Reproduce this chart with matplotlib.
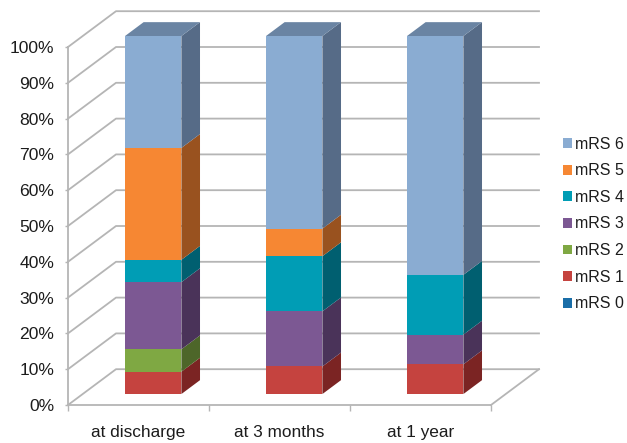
import matplotlib
matplotlib.use("Agg")
import matplotlib.pyplot as plt
from matplotlib.patches import Patch, Polygon

plt.rcParams["font.family"] = ["Liberation Sans", "DejaVu Sans"]

# ── Datos ────────────────────────────────────────────────────
periodos = ["at discharge", "at 3 months", "at 1 year"]
escalas = ["mRS 0", "mRS 1", "mRS 2", "mRS 3", "mRS 4", "mRS 5", "mRS 6"]

mrs0 = [0, 0, 0]
mrs1 = [6.25, 7.7, 8.3]
mrs2 = [6.25, 0, 0]
mrs3 = [18.75, 15.4, 8.3]
mrs4 = [6.25, 15.4, 16.7]
mrs5 = [31.25, 7.7, 0]
mrs6 = [31.25, 53.8, 66.7]
series = [mrs0, mrs1, mrs2, mrs3, mrs4, mrs5, mrs6]

colores = ["#1a6ea8", "#c5433f", "#7fa843", "#7c5893", "#009db5", "#f68733", "#8aacd2"]
laterales = ["#104a72", "#7b2423", "#4d6629", "#4a3359", "#005f70", "#99521f", "#566b87"]
color_tapa = "#6a84a3"
gris = "#b5b5b5"

# Desplazamiento oblicuo de la profundidad, en unidades de datos
DX = 48 / 141
DY = 10
ANCHO = 0.4
PROF_FRENTE = 0.306
PROF_FONDO = 0.694


def proy(x, y, prof):
    return (x + prof * DX, y + prof * DY)


fig = plt.figure(figsize=(6.27, 4.43), dpi=100)
ax = fig.add_axes([68 / 627, 38 / 443, 423 / 627, 358 / 443])
ax.set_xlim(0, 3)
ax.set_ylim(0, 100)

# ── Paredes y piso ───────────────────────────────────────────
for y in range(0, 101, 10):
    ax.plot(*zip(proy(0, y, 0), proy(0, y, 1), proy(3, y, 1)),
            color=gris, lw=1.3, clip_on=False, zorder=1)
ax.plot(*zip(proy(3, 0, 0), proy(3, 0, 1)), color=gris, lw=1.3, clip_on=False, zorder=1)

# ── Barras apiladas ──────────────────────────────────────────
for i in range(len(periodos)):
    izq = i + 0.5 - ANCHO / 2
    der = i + 0.5 + ANCHO / 2
    base = 0
    for valores, color, lateral in zip(series, colores, laterales):
        v = valores[i]
        if v == 0:
            continue
        tope = base + v
        frente = [proy(izq, base, PROF_FRENTE), proy(der, base, PROF_FRENTE),
                  proy(der, tope, PROF_FRENTE), proy(izq, tope, PROF_FRENTE)]
        costado = [proy(der, base, PROF_FRENTE), proy(der, base, PROF_FONDO),
                   proy(der, tope, PROF_FONDO), proy(der, tope, PROF_FRENTE)]
        ax.add_patch(Polygon(costado, closed=True, fc=lateral, ec="none", clip_on=False, zorder=3))
        ax.add_patch(Polygon(frente, closed=True, fc=color, ec="none", clip_on=False, zorder=4))
        base = tope
    tapa = [proy(izq, base, PROF_FRENTE), proy(der, base, PROF_FRENTE),
            proy(der, base, PROF_FONDO), proy(izq, base, PROF_FONDO)]
    ax.add_patch(Polygon(tapa, closed=True, fc=color_tapa, ec="none", clip_on=False, zorder=3))

# ── Ejes ─────────────────────────────────────────────────────
for lado in ["top", "right"]:
    ax.spines[lado].set_visible(False)
for lado in ["left", "bottom"]:
    ax.spines[lado].set_color(gris)
    ax.spines[lado].set_linewidth(1.3)

ax.set_yticks(range(0, 101, 10))
ax.set_yticklabels([f"{v}%" for v in range(0, 101, 10)])
ax.tick_params(axis="y", length=2, width=1, color=gris, pad=8, labelsize=12.6, labelcolor="#1c1c1c")

ax.set_xticks([0, 1, 2, 3])
ax.set_xticklabels([])
ax.tick_params(axis="x", which="major", length=4.5, width=1, color=gris)
ax.set_xticks([0.5, 1.5, 2.5], minor=True)
ax.set_xticklabels(periodos, minor=True)
ax.tick_params(axis="x", which="minor", length=0, pad=14.5, labelsize=12.4, labelcolor="#1c1c1c")

# ── Leyenda ──────────────────────────────────────────────────
handles = [Patch(fc=c, ec="none") for c in colores[::-1]]
ax.legend(handles, escalas[::-1], loc="center left", bbox_to_anchor=(563 / 627, 219 / 443),
          bbox_transform=fig.transFigure, frameon=False, fontsize=11.5, labelcolor="#1c1c1c",
          handlelength=0.57, handleheight=0.57, handletextpad=0.2, labelspacing=0.726,
          borderpad=0, borderaxespad=0)

fig.savefig("out.png", dpi=100, facecolor="white")
